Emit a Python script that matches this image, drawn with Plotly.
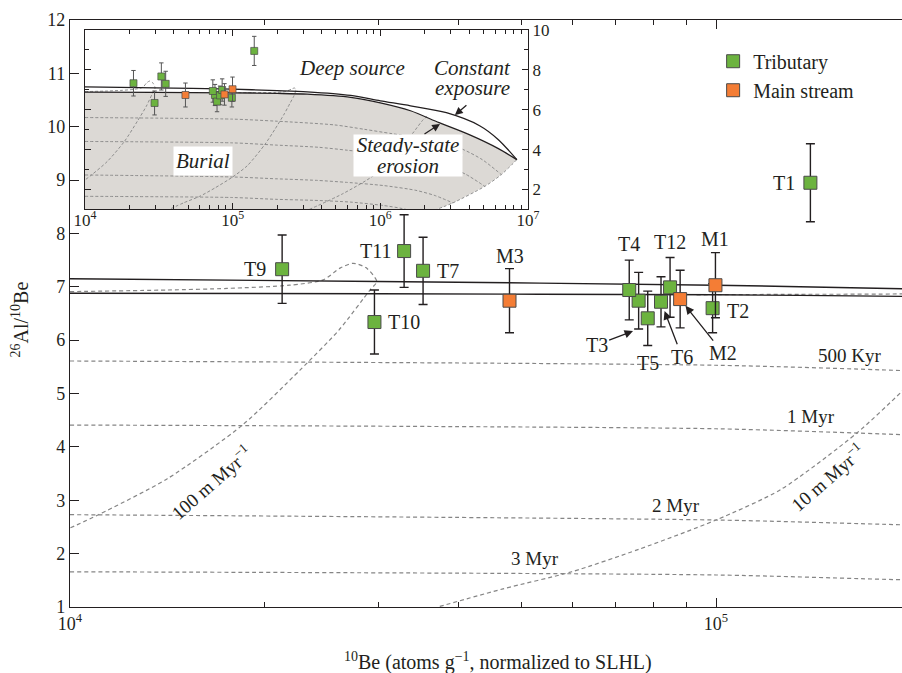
import numpy as np
import plotly.graph_objects as go

FONT = "Liberation Serif"
INK = "#231f20"
GREEN = "#6cb33f"
ORANGE = "#f47d35"
DASH_GREY = "#858585"
SHADE = "#dcd9d5"

# ---------------- samples: 10Be (atoms/g, SLHL) and 26Al/10Be ----------------
trib_names = ["T1", "T2", "T3", "T4", "T5", "T6", "T7", "T9", "T10", "T11", "T12"]
trib_be10 = [1.40e5, 9.88e4, 7.59e4, 7.34e4, 7.84e4, 8.22e4, 3.52e4, 2.13e4, 2.96e4, 3.29e4, 8.49e4]
trib_ratio = [8.95, 6.60, 6.74, 6.94, 6.41, 6.72, 7.30, 7.33, 6.34, 7.67, 6.99]
trib_err = [0.73, 0.46, 0.53, 0.56, 0.51, 0.47, 0.63, 0.64, 0.60, 0.68, 0.56]

main_names = ["M1", "M2", "M3"]
main_be10 = [9.98e4, 8.80e4, 4.79e4]
main_ratio = [7.03, 6.77, 6.74]
main_err = [0.61, 0.54, 0.60]

# ---------------- model curves ----------------
const_exp_be = [1e4, 3e4, 1e5, 2e5, 3.2e5, 6.3e5, 1e6, 1.6e6, 2.8e6, 4.7e6, 6.3e6, 8.4e6]
const_exp_ratio = [7.15, 7.10, 7.03, 6.96, 6.90, 6.72, 6.45, 6.20, 5.85, 5.20, 4.50, 3.50]

ss_be = [1e4, 3e4, 1e5, 2e5, 3.2e5, 6.3e5, 1e6, 1.6e6, 2.5e6, 4e6, 6.3e6, 8.4e6]
ss_ratio = [6.88, 6.87, 6.85, 6.82, 6.78, 6.62, 6.35, 5.95, 5.35, 4.75, 4.05, 3.50]

# burial isochrons
iso_500k_be = [1e4, 1e5, 1.95e5, 4.9e5, 7.8e5, 1.2e6, 2.2e6, 3.6e6, 4.9e6, 6.6e6]
iso_500k_ratio = [5.61, 5.53, 5.43, 5.24, 5.02, 4.80, 4.50, 4.02, 3.50, 2.75]
iso_1m_be = [1e4, 1e5, 1.95e5, 3.8e5, 6e5, 9.5e5, 1.7e6, 2.8e6, 3.8e6, 5.1e6]
iso_1m_ratio = [4.41, 4.34, 4.23, 4.12, 3.97, 3.80, 3.55, 3.18, 2.76, 2.16]
iso_2m_be = [1e4, 1e5, 1.95e5, 3.7e5, 5.9e5, 1.05e6, 1.74e6, 2.34e6, 3.1e6]
iso_2m_ratio = [2.73, 2.63, 2.54, 2.46, 2.36, 2.20, 1.96, 1.70, 1.33]
iso_3m_be = [1e4, 1e5, 1.95e5, 3.5e5, 6.3e5, 1.05e6, 1.4e6, 1.86e6]
iso_3m_ratio = [1.66, 1.60, 1.51, 1.46, 1.37, 1.20, 1.05, 0.82]

# lower-right limit of the burial field
edge_be = [8.4e6, 6.6e6, 5.1e6, 3.1e6, 2.4e6]
edge_ratio = [3.50, 2.75, 2.16, 1.33, 1.00]

# constant erosion-rate paths
e100_be = [1e4, 1.413e4, 1.750e4, 2.188e4, 2.466e4, 2.618e4, 2.742e4, 2.871e4, 2.985e4,
           2.913e4, 2.608e4, 2.270e4, 1.849e4, 1.413e4, 1.107e4, 1e4]
e100_ratio = [6.91, 6.94, 6.97, 7.03, 7.13, 7.35, 7.44, 7.36, 7.10,
              6.94, 6.19, 5.44, 4.41, 3.40, 2.73, 2.48]
e10_be = [9.33e4, 1.349e5, 1.95e5, 2.29e5, 2.51e5, 2.618e5, 2.679e5, 2.60e5, 2.455e5,
          2.239e5, 1.936e5, 1.652e5, 1.259e5, 1e5, 7.59e4, 5.98e4, 4.68e4, 3.71e4]
e10_ratio = [6.85, 6.86, 6.87, 6.92, 7.04, 7.09, 7.02, 6.70, 6.35,
             5.80, 5.03, 4.26, 3.20, 2.63, 2.08, 1.66, 1.34, 1.00]
e1_be = [3.3e5, 5.6e5, 9.4e5, 1.41e6, 1.66e6, 1.95e6, 2.1e6]
e1_ratio = [1.00, 1.80, 2.80, 4.20, 4.83, 5.50, 5.70]

iso_names = ["500 Kyr", "1 Myr", "2 Myr", "3 Myr"]
rate_names = ["100 m Myr<sup>\u22121</sup>", "10 m Myr<sup>\u22121</sup>"]

main_xticks = [1e4, 1e5]
main_xticktext = ["10<sup>4</sup>", "10<sup>5</sup>"]
main_xminor = [2e4, 3e4, 4e4, 5e4, 6e4, 7e4, 8e4, 9e4]
main_yticks = list(range(1, 13))
inset_xticks = [1e4, 1e5, 1e6, 1e7]
inset_xticktext = ["10<sup>4</sup>", "10<sup>5</sup>", "10<sup>6</sup>", "10<sup>7</sup>"]
inset_xminor = [m * d for d in (1e4, 1e5, 1e6) for m in range(2, 10)]
inset_yticks = [2, 4, 6, 8, 10]
inset_yminor = [1, 3, 5, 7, 9]

fig = go.Figure()

# shaded burial field (inset only)
fig.add_trace(go.Scatter(
    x=ss_be + edge_be[1:] + [1e4], y=ss_ratio + edge_ratio[1:] + [1.0],
    mode="lines", fill="toself", fillcolor=SHADE, line=dict(width=0),
    xaxis="x2", yaxis="y2", hoverinfo="skip", showlegend=False))

panels = [
    dict(xa="x", ya="y", dw=1.2, dash="4px,3px", sw=1.4, ms=13, ew=4.5, et=1.4, ec=INK, mw=1.0),
    dict(xa="x2", ya="y2", dw=0.9, dash="3px,2px", sw=1.3, ms=7, ew=2.2, et=1.0, ec="#555555", mw=0.7),
]

dashed_curves = [
    (iso_500k_be, iso_500k_ratio), (iso_1m_be, iso_1m_ratio),
    (iso_2m_be, iso_2m_ratio), (iso_3m_be, iso_3m_ratio),
    (e100_be, e100_ratio), (e10_be, e10_ratio),
]

for i, p in enumerate(panels):
    curves = list(dashed_curves)
    if p["xa"] == "x2":
        curves += [(e1_be, e1_ratio), (edge_be, edge_ratio)]
    for bx, by in curves:
        fig.add_trace(go.Scatter(
            x=bx, y=by, mode="lines", xaxis=p["xa"], yaxis=p["ya"],
            line=dict(color=DASH_GREY, width=p["dw"], dash=p["dash"], shape="spline", smoothing=0.7),
            hoverinfo="skip", showlegend=False))
    for bx, by in [(const_exp_be, const_exp_ratio), (ss_be, ss_ratio)]:
        fig.add_trace(go.Scatter(
            x=bx, y=by, mode="lines", xaxis=p["xa"], yaxis=p["ya"],
            line=dict(color=INK, width=p["sw"], shape="spline", smoothing=0.8),
            hoverinfo="skip", showlegend=False))
    for name, bx, by, be, col in [("Tributary", trib_be10, trib_ratio, trib_err, GREEN),
                                  ("Main stream", main_be10, main_ratio, main_err, ORANGE)]:
        fig.add_trace(go.Scatter(
            x=bx, y=by, mode="markers", name=name, xaxis=p["xa"], yaxis=p["ya"],
            marker=dict(symbol="square", size=p["ms"], color=col,
                        line=dict(color="#4a4a4a", width=p["mw"])),
            error_y=dict(type="data", array=be, color=p["ec"], thickness=p["et"], width=p["ew"]),
            showlegend=(i == 0)))

# ---------------- sample labels ----------------
lab_font = dict(family=FONT, size=20, color=INK)
samples = {n: (x, r, e) for n, x, r, e in zip(trib_names + main_names,
                                              trib_be10 + main_be10,
                                              trib_ratio + main_ratio,
                                              trib_err + main_err)}
# placement: side of the marker and pixel offsets
side_labels = {
    "T1": ("right", -13, 0), "T9": ("right", -14, 0), "T11": ("right", -11, 0),
    "T2": ("left", 12, -3), "T7": ("left", 12, 0), "T10": ("left", 12, 0),
}
above_labels = {"M3": 13, "T4": 15.7, "T12": 15.6, "M1": 13.7}
below_labels = {"T5": -17}
arrow_labels = {"T3": ("low", -42, 16, 6), "T6": ("mid", 21, 55, 10), "M2": ("mid", 43, 54, 8.6)}

annotations = []
for n, (xa, shift, ys) in side_labels.items():
    x, r, e = samples[n]
    annotations.append(dict(x=np.log10(x), y=r, xref="x", yref="y", text=n, showarrow=False,
                            xanchor=xa, xshift=shift, yshift=ys, font=lab_font))
for n, ys in above_labels.items():
    x, r, e = samples[n]
    annotations.append(dict(x=np.log10(x), y=r + e, xref="x", yref="y", text=n, showarrow=False,
                            yshift=ys, font=lab_font))
for n, ys in below_labels.items():
    x, r, e = samples[n]
    annotations.append(dict(x=np.log10(x), y=r - e, xref="x", yref="y", text=n, showarrow=False,
                            yshift=ys, font=lab_font))
for n, (where, ax, ay, so) in arrow_labels.items():
    x, r, e = samples[n]
    annotations.append(dict(x=np.log10(x), y=(r - e) if where == "low" else r, xref="x", yref="y",
                            text=n, showarrow=True, ax=ax, ay=ay, standoff=so,
                            arrowhead=2, arrowsize=1.3, arrowwidth=1.3, arrowcolor=INK, font=lab_font))

# isochron and erosion-rate labels
iso_label_pos = [(5.2074, 5.704), (5.147, 4.566), (4.938, 2.893), (4.720, 1.913)]
for t, (lx, ly) in zip(iso_names, iso_label_pos):
    annotations.append(dict(x=lx, y=ly, xref="x", yref="y", text=t, showarrow=False,
                            font=dict(family=FONT, size=19, color=INK)))
rate_label_pos = [(4.218, 3.348), (5.172, 3.442)]
for t, (lx, ly) in zip(rate_names, rate_label_pos):
    annotations.append(dict(x=lx, y=ly, xref="x", yref="y", text=t, showarrow=False,
                            textangle=-41, font=dict(family=FONT, size=19, color=INK)))

# inset captions
ital = dict(family=FONT, size=21, color=INK)
annotations += [
    dict(x=5.808, y=8.09, xref="x2", yref="y2", text="<i>Deep source</i>", showarrow=False, font=ital),
    dict(x=6.627, y=8.09, xref="x2", yref="y2", text="<i>Constant</i>", showarrow=False, font=ital),
    dict(x=6.627, y=7.09, xref="x2", yref="y2", text="<i>exposure</i>", showarrow=False, font=ital),
    dict(x=4.80, y=3.43, xref="x2", yref="y2", text="<i>Burial</i>", showarrow=False, font=ital,
         bgcolor="white", borderpad=2),
    dict(x=6.187, y=4.24, xref="x2", yref="y2", text="<i>Steady-state</i>", showarrow=False, font=ital,
         bgcolor="white", width=108, height=20, borderpad=0),
    dict(x=6.187, y=3.19, xref="x2", yref="y2", text="<i>erosion</i>", showarrow=False, font=ital,
         bgcolor="white", width=108, height=21, borderpad=0),
    dict(x=6.505, y=5.74, xref="x2", yref="y2", text="", showarrow=True, ax=13, ay=-11,
         arrowhead=2, arrowsize=1.2, arrowwidth=1.3, arrowcolor=INK),
    dict(x=6.404, y=5.29, xref="x2", yref="y2", text="", showarrow=True, ax=-17, ay=11,
         arrowhead=2, arrowsize=1.2, arrowwidth=1.3, arrowcolor=INK),
]

# axis titles
annotations += [
    dict(x=0.514, y=-0.093, xref="paper", yref="paper", showarrow=False,
         xanchor="center", yanchor="middle",
         text="<sup>10</sup>Be (atoms g<sup>\u22121</sup>, normalized to SLHL)",
         font=dict(family=FONT, size=20, color=INK)),
    dict(x=-0.060, y=0.49, xref="paper", yref="paper", showarrow=False, textangle=-90,
         xanchor="center", yanchor="middle",
         text="<sup>26</sup>Al/<sup>10</sup>Be", font=dict(family=FONT, size=20, color=INK)),
]

tick_font = dict(family=FONT, size=18, color=INK)
fig.update_layout(
    width=902, height=673,
    margin=dict(l=70, r=0, t=20, b=66, autoexpand=False),
    paper_bgcolor="white", plot_bgcolor="white",
    font=dict(family=FONT, color=INK),
    xaxis=dict(type="log", range=[4, 4 + 832 / 646], domain=[0, 1],
               tickvals=main_xticks, ticktext=main_xticktext, tickfont=tick_font,
               ticks="inside", ticklen=9, tickwidth=1.3, tickcolor=INK,
               minor=dict(tickvals=main_xminor, ticks="inside", ticklen=5, tickwidth=1.2, tickcolor=INK),
               showline=True, linecolor=INK, linewidth=1.4, mirror="allticks",
               showgrid=False, zeroline=False, automargin=False),
    yaxis=dict(range=[1, 12], domain=[0, 1], tickvals=main_yticks, tickfont=tick_font,
               ticks="inside", ticklen=9, tickwidth=1.3, tickcolor=INK,
               showline=True, linecolor=INK, linewidth=1.4, mirror=False,
               showgrid=False, zeroline=False, automargin=False),
    xaxis2=dict(type="log", range=[4, 7], domain=[0.018, 0.5505], anchor="y2",
                tickvals=inset_xticks, ticktext=inset_xticktext, tickfont=dict(family=FONT, size=17, color=INK),
                ticks="inside", ticklen=6, tickwidth=1.2, tickcolor=INK, ticklabelstandoff=-5,
                minor=dict(tickvals=inset_xminor, ticks="inside", ticklen=4, tickwidth=1, tickcolor=INK),
                showline=True, linecolor=INK, linewidth=1.3, mirror="allticks",
                showgrid=False, zeroline=False, automargin=False),
    yaxis2=dict(range=[1, 10], domain=[0.6772, 0.983], anchor="x2", side="right",
                tickvals=inset_yticks, tickfont=dict(family=FONT, size=17, color=INK),
                ticks="inside", ticklen=6, tickwidth=1.2, tickcolor=INK,
                minor=dict(tickvals=inset_yminor, ticks="inside", ticklen=4, tickwidth=1, tickcolor=INK),
                showline=True, linecolor=INK, linewidth=1.3, mirror="allticks",
                showgrid=False, zeroline=False, automargin=False),
    legend=dict(x=0.773, y=0.963, xanchor="left", yanchor="top", bgcolor="rgba(0,0,0,0)",
                font=dict(family=FONT, size=20, color=INK), itemwidth=30),
    annotations=annotations,
)

fig.write_html("out.html")
